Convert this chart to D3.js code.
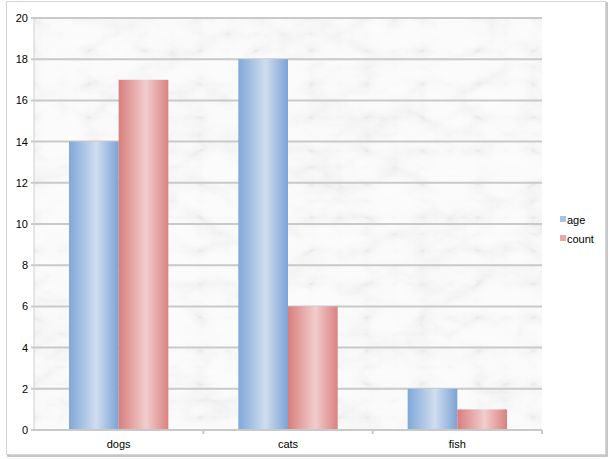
<!DOCTYPE html>
<html>
<head>
<meta charset="utf-8">
<script src="https://cdn.jsdelivr.net/npm/d3@7"></script>
<style>
  body { margin: 0; background: #fff; }
  text { font-family: "Liberation Sans", Arial, sans-serif; font-size: 11px; fill: #000; }
</style>
</head>
<body>
<div id="chart"></div>
<script>
// data
var categories = ["dogs", "cats", "fish"];
var seriesNames = ["age", "count"];
var age = [14, 18, 2];
var count = [17, 6, 1];
var yTicks = [0, 2, 4, 6, 8, 10, 12, 14, 16, 18, 20];

var W = 609, H = 459;
var margin = {top: 18, right: 67, bottom: 29, left: 34},
    width = W - margin.left - margin.right,
    height = H - margin.top - margin.bottom;

var svg = d3.select("#chart")
  .append("svg")
    .attr("width", W)
    .attr("height", H);

var defs = svg.append("defs");

// marble-ish background: turbulence lines mapped to light grey veins
var f = defs.append("filter").attr("id", "marble")
  .attr("x", 0).attr("y", 0).attr("width", 1).attr("height", 1);
f.append("feTurbulence")
  .attr("type", "turbulence")
  .attr("baseFrequency", "0.018 0.03")
  .attr("numOctaves", 5)
  .attr("seed", 3)
  .attr("result", "t");
f.append("feColorMatrix")
  .attr("in", "t")
  .attr("type", "matrix")
  .attr("values", "0.33 0.33 0.33 0 0  0.33 0.33 0.33 0 0  0.33 0.33 0.33 0 0  0 0 0 0 1")
  .attr("result", "l");
var ct = f.append("feComponentTransfer").attr("in", "l");
["feFuncR", "feFuncG", "feFuncB"].forEach(function(n) {
  ct.append(n).attr("type", "table").attr("tableValues", "0.80 0.90 0.95 0.97 0.975 0.98 0.985");
});

// bar gradients
function grad(id, edge, mid) {
  var g = defs.append("linearGradient").attr("id", id)
    .attr("x1", "0%").attr("x2", "100%").attr("y1", "0%").attr("y2", "0%");
  g.append("stop").attr("offset", "0%").attr("stop-color", edge[0]);
  g.append("stop").attr("offset", "55%").attr("stop-color", mid);
  g.append("stop").attr("offset", "100%").attr("stop-color", edge[1]);
}
grad("g-age", ["#80a8d8", "#7ba3d4"], "#d0ddef");
grad("g-count", ["#d77f7d", "#d98280"], "#f2cdcd");
var fills = {age: "url(#g-age)", count: "url(#g-count)"};
var swatch = {age: "#a9c3e4", count: "#e6a9a8"};

// outer frame with soft shadow on right / bottom
svg.append("rect")
  .attr("x", 8).attr("y", 3).attr("width", 599).attr("height", 453)
  .attr("fill", "none").attr("stroke", "#b5b5b5").attr("stroke-width", 1.5);
svg.append("rect")
  .attr("x", 6.5).attr("y", 1.5).attr("width", 599).attr("height", 453)
  .attr("fill", "#fff").attr("stroke", "#d6d6d6");

var g = svg.append("g")
  .attr("transform", "translate(" + margin.left + "," + margin.top + ")");

var x0 = d3.scaleBand().domain(categories).range([0, width]);
var x1 = d3.scaleBand().domain(seriesNames).range([35, x0.bandwidth() - 35]);
var y = d3.scaleLinear().domain([0, 20]).range([height, 0]);

g.append("rect")
  .attr("width", width).attr("height", height)
  .attr("fill", "#eee")
  .attr("filter", "url(#marble)");

// grid lines
g.append("g")
  .selectAll("line")
  .data(yTicks)
  .join("line")
    .attr("x1", -3).attr("x2", width)
    .attr("y1", function(d) { return y(d); })
    .attr("y2", function(d) { return y(d); })
    .attr("stroke", "#c9c9c9")
    .attr("stroke-width", 2);

// left axis line
g.append("line")
  .attr("x1", 0).attr("x2", 0).attr("y1", 0).attr("y2", height)
  .attr("stroke", "#d0d0d0").attr("stroke-width", 1);

var yAxis = g.append("g")
  .call(d3.axisLeft(y).tickValues(yTicks).tickSize(0).tickPadding(6));
yAxis.select(".domain").remove();
yAxis.selectAll("text").style("font-size", "11px").attr("fill", "#000");

// bars
var data = categories.map(function(c, i) {
  return {cat: c, vals: [{key: "age", v: age[i]}, {key: "count", v: count[i]}]};
});

g.append("g")
  .selectAll("g")
  .data(data)
  .join("g")
    .attr("transform", function(d) { return "translate(" + x0(d.cat) + ",0)"; })
  .selectAll("rect")
  .data(function(d) { return d.vals; })
  .join("rect")
    .attr("x", function(d) { return x1(d.key); })
    .attr("width", x1.bandwidth())
    .attr("y", function(d) { return y(d.v); })
    .attr("height", function(d) { return height - y(d.v); })
    .attr("fill", function(d) { return fills[d.key]; });

// x axis
g.append("line")
  .attr("x1", -3).attr("x2", width).attr("y1", height).attr("y2", height)
  .attr("stroke", "#c9c9c9").attr("stroke-width", 2);
var xAxis = g.append("g")
  .attr("transform", "translate(0," + height + ")")
  .call(d3.axisBottom(x0).tickSize(0).tickPadding(10));
xAxis.select(".domain").remove();
xAxis.selectAll("text").style("font-size", "11px").attr("fill", "#000");

// category separators
g.append("g")
  .selectAll("line")
  .data(categories.slice(1).concat(["_end"]))
  .join("line")
    .attr("x1", function(d) { return d === "_end" ? width : x0(d); })
    .attr("x2", function(d) { return d === "_end" ? width : x0(d); })
    .attr("y1", height).attr("y2", height + 4)
    .attr("stroke", "#c9c9c9").attr("stroke-width", 2);

// legend
var legend = svg.append("g")
  .attr("transform", "translate(560,216)");
var li = legend.selectAll("g")
  .data(seriesNames)
  .join("g")
    .attr("transform", function(d, i) { return "translate(0," + (i * 19) + ")"; });
li.append("rect")
  .attr("width", 6).attr("height", 6)
  .attr("fill", function(d) { return swatch[d]; });
li.append("text")
  .attr("x", 7).attr("y", 8)
  .style("font-size", "11px")
  .text(function(d) { return d; });
</script>
</body>
</html>
